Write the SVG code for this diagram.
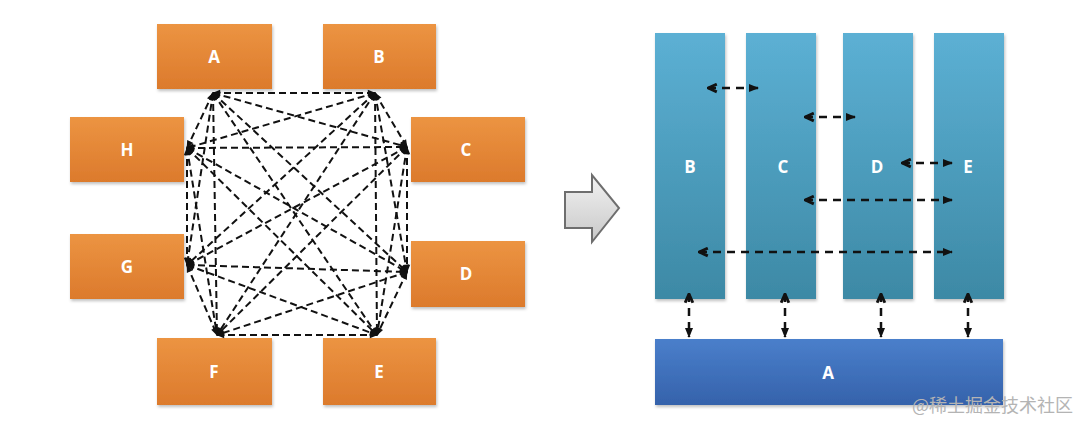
<svg xmlns="http://www.w3.org/2000/svg" width="1080" height="423" viewBox="0 0 1080 423">
<defs>
<style>
.lbl{font-family:"Open Sans","Liberation Sans",sans-serif;font-weight:bold;font-size:17px;fill:#fff;text-anchor:middle;dominant-baseline:central}
.obox{fill:url(#og);filter:url(#sh)}
.col{fill:url(#bg);filter:url(#sh)}
.e{fill:none;stroke:#111;stroke-width:2;stroke-dasharray:7 4;marker-start:url(#ah);marker-end:url(#ah)}
.r{fill:none;stroke:#111;stroke-width:2.5;stroke-dasharray:8 6;marker-start:url(#chev);marker-end:url(#tri)}
</style>
<linearGradient id="og" x1="0" y1="0" x2="0" y2="1"><stop offset="0" stop-color="#ec9442"/><stop offset="1" stop-color="#dc7a2c"/></linearGradient>
<linearGradient id="bg" x1="0" y1="0" x2="0" y2="1"><stop offset="0" stop-color="#5cb0d4"/><stop offset="1" stop-color="#3d89a5"/></linearGradient>
<linearGradient id="ag" x1="0" y1="0" x2="0" y2="1"><stop offset="0" stop-color="#4a7fcb"/><stop offset="1" stop-color="#3562ab"/></linearGradient>
<linearGradient id="gg" x1="0" y1="0" x2="0" y2="1"><stop offset="0" stop-color="#f2f2f2"/><stop offset="1" stop-color="#c8c8c8"/></linearGradient>
<filter id="sh" x="-10%" y="-10%" width="130%" height="130%"><feDropShadow dx="1" dy="2" stdDeviation="1.5" flood-color="#000" flood-opacity="0.25"/></filter>
<marker id="ah" viewBox="0 0 10 10" refX="9" refY="5" markerWidth="9" markerHeight="8" markerUnits="userSpaceOnUse" orient="auto-start-reverse"><path d="M0,1 L10,5 L0,9 z" fill="#111"/></marker>
<marker id="tri" viewBox="0 0 10 10" refX="9" refY="5" markerWidth="10" markerHeight="10" markerUnits="userSpaceOnUse" orient="auto-start-reverse"><path d="M0,1 L10,5 L0,9 z" fill="#111"/></marker>
<marker id="chev" viewBox="0 0 10 10" refX="9" refY="5" markerWidth="11" markerHeight="11" markerUnits="userSpaceOnUse" orient="auto-start-reverse"><path d="M1,1.5 L9,5 L1,8.5" fill="none" stroke="#111" stroke-width="2.6"/></marker>
</defs>
<rect width="1080" height="423" fill="#fff"/>

<g id="nA"><rect class="obox" x="157" y="24" width="115" height="65"/><text class="lbl" x="214" y="56">A</text></g>
<g id="nB"><rect class="obox" x="323" y="24" width="113" height="65"/><text class="lbl" x="379" y="56">B</text></g>
<g id="nH"><rect class="obox" x="70" y="117" width="114" height="65"/><text class="lbl" x="127" y="149">H</text></g>
<g id="nC"><rect class="obox" x="411" y="117" width="114" height="65"/><text class="lbl" x="466" y="149">C</text></g>
<g id="nG"><rect class="obox" x="70" y="234" width="114" height="65"/><text class="lbl" x="127" y="266">G</text></g>
<g id="nD"><rect class="obox" x="411" y="241" width="114" height="66"/><text class="lbl" x="466" y="273">D</text></g>
<g id="nF"><rect class="obox" x="157" y="338" width="115" height="67"/><text class="lbl" x="214" y="371">F</text></g>
<g id="nE"><rect class="obox" x="323" y="338" width="113" height="67"/><text class="lbl" x="379" y="371">E</text></g>

<g id="transform-arrow"><path d="M565,192 L592,192 L592,175 L619,208 L592,242 L592,228 L565,228 Z" fill="url(#gg)" stroke="#6e6e6e" stroke-width="2" stroke-linejoin="miter"/></g>

<g id="cB"><rect class="col" x="655" y="33" width="70" height="266"/><text class="lbl" x="690" y="166">B</text></g>
<g id="cC"><rect class="col" x="746" y="33" width="70" height="266"/><text class="lbl" x="783" y="166">C</text></g>
<g id="cD"><rect class="col" x="843" y="33" width="70" height="266"/><text class="lbl" x="877" y="166">D</text></g>
<g id="cE"><rect class="col" x="934" y="33" width="70" height="266"/><text class="lbl" x="968" y="166">E</text></g>
<g id="bA"><rect x="655" y="339" width="348" height="66" fill="url(#ag)" filter="url(#sh)"/><text class="lbl" x="828" y="372">A</text></g>

<g id="connectors">
<path class="e" d="M213,93 L375,93"/>
<path class="e" d="M213,93 L187,148"/>
<path class="e" d="M213,93 L407,147"/>
<path class="e" d="M213,93 L187,265"/>
<path class="e" d="M213,93 L407,272"/>
<path class="e" d="M213,93 L217,335"/>
<path class="e" d="M213,93 L377,335"/>
<path class="e" d="M375,93 L187,148"/>
<path class="e" d="M375,93 L407,147"/>
<path class="e" d="M375,93 L187,265"/>
<path class="e" d="M375,93 L407,272"/>
<path class="e" d="M375,93 L217,335"/>
<path class="e" d="M375,93 L377,335"/>
<path class="e" d="M187,148 L407,147"/>
<path class="e" d="M187,148 L187,265"/>
<path class="e" d="M187,148 L407,272"/>
<path class="e" d="M187,148 L217,335"/>
<path class="e" d="M187,148 L377,335"/>
<path class="e" d="M407,147 L187,265"/>
<path class="e" d="M407,147 L407,272"/>
<path class="e" d="M407,147 L217,335"/>
<path class="e" d="M407,147 L377,335"/>
<path class="e" d="M187,265 L407,272"/>
<path class="e" d="M187,265 L217,335"/>
<path class="e" d="M187,265 L377,335"/>
<path class="e" d="M407,272 L217,335"/>
<path class="e" d="M407,272 L377,335"/>
<path class="e" d="M217,335 L377,335"/>

<path class="r" d="M708,88 L758,88"/>
<path class="r" d="M805,117 L855,117"/>
<path class="r" d="M902,163 L952,163"/>
<path class="r" d="M805,200 L952,200"/>
<path class="r" d="M699,252 L952,252"/>
<path class="r" d="M689,294 L689,337"/>
<path class="r" d="M785,294 L785,337"/>
<path class="r" d="M881,294 L881,337"/>
<path class="r" d="M968,294 L968,337"/>
</g>

<text x="1073" y="412" text-anchor="end" font-family="'Noto Sans CJK SC',sans-serif" font-size="18" fill="#b4b4b4">@稀土掘金技术社区</text>
</svg>
